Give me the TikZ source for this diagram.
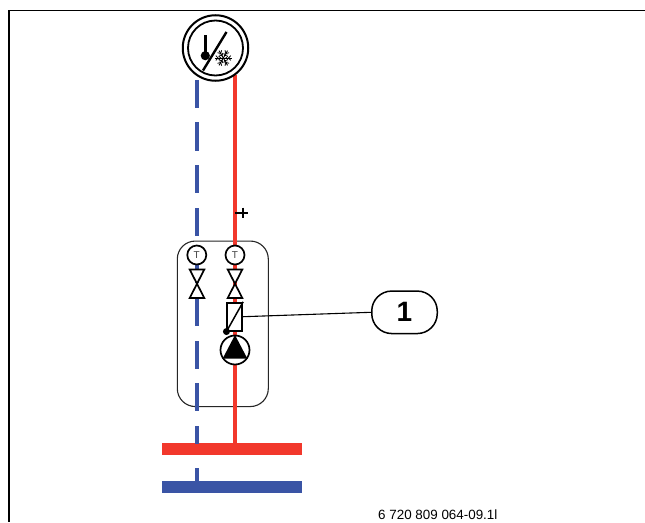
\documentclass[tikz,border=0pt]{standalone}
\usepackage{fontspec}
\setmainfont{Liberation Sans}
\definecolor{pipered}{HTML}{F2382C}
\definecolor{pipeblue}{HTML}{3A54A5}
\tikzset{
  redpipe/.style={draw=pipered,line width=3.4pt},
  bluepipe/.style={draw=pipeblue,line width=3.4pt},
  part/.style={draw=black,line width=1.7pt,fill=white},
  tsensor/.style={circle,part,minimum size=19pt,inner sep=0pt,font=\fontsize{10}{10}\selectfont,text=black!75},
  thinline/.style={draw=black,line width=1.1pt},
  bar/.style={rectangle,minimum width=140pt,minimum height=12pt,inner sep=0pt,line width=0pt}
}
\begin{document}
\begin{tikzpicture}[x=1pt,y=-1pt]
\useasboundingbox (0,0) rectangle (645,522);
\fill[white] (0,0) rectangle (645,522);
% frame
\coordinate (fa) at (645,10.5);
\coordinate (fb) at (9,10.5);
\coordinate (fc) at (9,522);
\draw[black,line width=1.8pt] (fa) -- (fb) -- (fc);
% unit box
\node[draw=black!85,line width=1.1pt,rounded corners=18pt,minimum width=91pt,minimum height=165.5pt,inner sep=0pt] (unit) at (222.8,323.8) {};
% bars
\node[bar,fill=pipered] (redbar) at (231.7,449.3) {};
\node[bar,fill=pipeblue] (bluebar) at (231.7,487.3) {};
% main symbol position
\coordinate (rtop) at (235,75);
% red pipe
\draw[redpipe] (rtop) -- (235,449);
% blue pipe dashes
\foreach \a/\b in {80/108,122/151,165/193,208/236,255/283,298/326,341/369,383/411,426/444,468/482}
  \draw[bluepipe] (197,\a) -- (197,\b);
% plus mark
\coordinate (pa) at (235,212.7);
\coordinate (pb) at (248.3,212.7);
\coordinate (pc) at (243.3,207.5);
\coordinate (pd) at (243.3,218);
\draw[black,line width=1.7pt] (pa) -- (pb) (pc) -- (pd);
% sensors
\node[tsensor] (t1) at (196.8,255) {T};
\node[tsensor] (t2) at (235,255) {T};
% valves
\foreach \n/\x in {v1/197,v2/235}{
  \coordinate (\n) at (\x,284);
  \draw[part,line join=miter] (\x-7.3,269.5) -- (\x+7.3,269.5) -- (\x-7.3,298) -- (\x+7.3,298) -- cycle;
}
% flow element
\node[part,rectangle,minimum width=15pt,minimum height=28pt,inner sep=0pt] (flow) at (234.8,316.7) {};
\draw[black,line width=1.5pt] (flow.north east) -- (flow.south west);
\node[circle,fill=black,minimum size=7pt,inner sep=0pt] (dot) at (flow.south west) {};
% pump
\node[circle,part,minimum size=29pt,inner sep=0pt] (pump) at (235,350) {};
\fill[black] (235,335) -- (247.3,358.5) -- (222.7,358.5) -- cycle;
% main symbol
\node[circle,draw=black,line width=2pt,fill=white,minimum size=65.5pt,inner sep=0pt] (main) at (215.5,48) {};
\node[circle,draw=black,line width=1.8pt,minimum size=55pt,inner sep=0pt] (maininner) at (215.5,48) {};
\draw[black,line width=3pt] (205,35) -- (205,55);
\fill[black] (205.3,55.7) circle (4.6);
\draw[black,line width=2.4pt] (226.5,32) -- (203,70.5);
\foreach \ang in {0,60,120}{
  \begin{scope}[shift={(223.3,58)},rotate=\ang]
    \draw[black,line width=0.9pt] (-8.5,0) -- (8.5,0);
    \foreach \s in {1,-1}{
      \draw[black,line width=0.8pt] (\s*7.5,-2.4) -- (\s*5.2,0) -- (\s*7.5,2.4);
      \draw[black,line width=0.8pt] (\s*4.6,-2) -- (\s*2.6,0) -- (\s*4.6,2);
    }
  \end{scope}
}
% callout
\node[draw=black,line width=1.5pt,rounded corners=20pt,minimum width=65.5pt,minimum height=42.5pt,inner sep=0pt,font=\bfseries\fontsize{28}{28}\selectfont] (call) at (404.5,312.3) {1};
\draw[thinline] (flow.east) -- (call.west);
% number
\node[anchor=west,inner sep=0pt,font=\fontsize{13.4}{14}\selectfont] (num) at (378,515) {6 720 809 064-09.1l};
\end{tikzpicture}
\end{document}
